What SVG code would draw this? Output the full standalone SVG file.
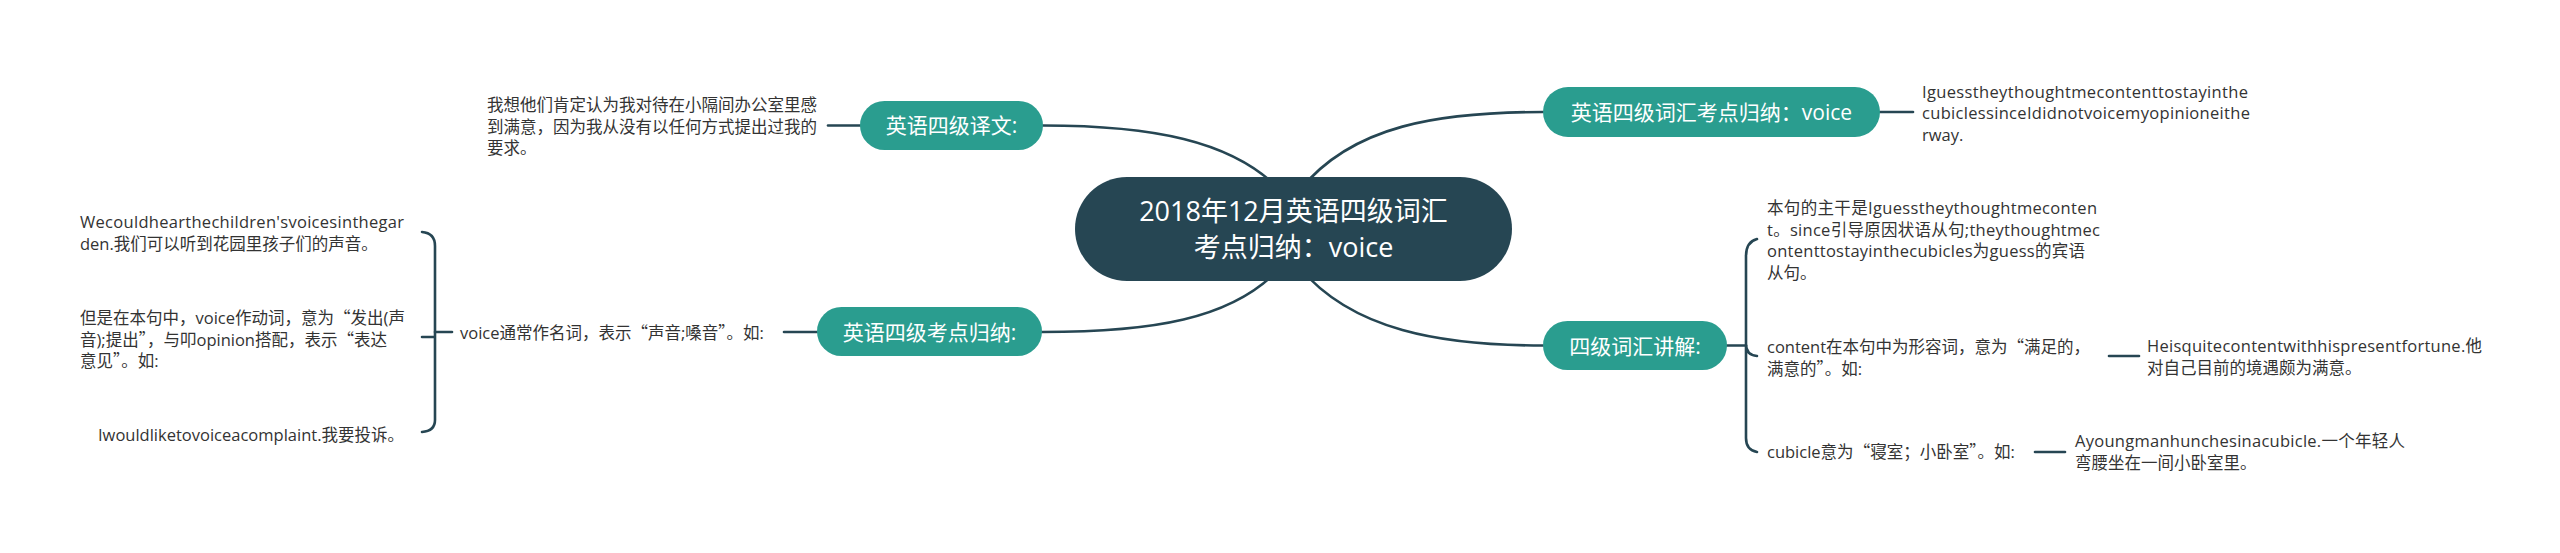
<svg xmlns="http://www.w3.org/2000/svg" width="2560" height="553" viewBox="0 0 2560 553">
<style>
.bg{fill:#ffffff}
.ln{fill:none;stroke:#264653;stroke-width:2.6;stroke-linecap:round}
.br{fill:#2a9d8f}
.ct{fill:#264653}
.t{font-family:"Open Sans","Noto Sans CJK SC",sans-serif;font-size:16.5px;fill:#333333}
.q{font-family:"Noto Sans CJK SC",sans-serif}
.n{font-family:"Open Sans","Noto Sans CJK SC",sans-serif;font-size:21px;fill:#ffffff;text-anchor:middle}
.c{font-family:"Open Sans","Noto Sans CJK SC",sans-serif;font-size:27px;fill:#ffffff;text-anchor:middle}
</style>
<rect class="bg" x="0" y="0" width="2560" height="553"/>
<g id="connectors">
<path class="ln" d="M1043,125.5 C1150,125.5 1232,140 1280,190"/>
<path class="ln" d="M1543,112 C1440,112 1352,125 1300,190"/>
<path class="ln" d="M1543,345.5 C1440,345.5 1352,330 1300,268"/>
<path class="ln" d="M1042,332 C1150,332 1232,320 1280,268"/>
<path class="ln" d="M828,125.5 H860"/>
<path class="ln" d="M1880,112 H1913"/>
<path class="ln" d="M784,332 H817"/>
<path class="ln" d="M1727,345.5 H1746"/>
<path class="ln" d="M2109,356 H2139"/>
<path class="ln" d="M2035,452 H2065"/>
<path class="ln" d="M435,332 H452"/>
<path class="ln" d="M1757,239 Q1746,242 1746,256 V438 Q1746,450 1757,452 M1746,344 Q1746,355 1757,356"/>
<path class="ln" d="M422,232 Q435,233 435,246 V420 Q435,431 422,432 M422,337 H435"/>
</g>
<g id="center">
<rect class="ct" x="1075" y="177" width="437" height="104" rx="52"/>
<text class="c" x="1293.5" y="221">2018年12月英语四级词汇</text>
<text class="c" x="1293.5" y="257">考点归纳：voice</text>
</g>
<g id="node-yiwen">
<rect class="br" x="860" y="101" width="183" height="49" rx="24.5"/>
<text class="n" x="951.5" y="133">英语四级译文:</text>
</g>
<g id="text-yiwen">
<text class="t" x="487" y="111">我想他们肯定认为我对待在小隔间办公室里感</text>
<text class="t" x="487" y="132.5">到满意，因为我从没有以任何方式提出过我的</text>
<text class="t" x="487" y="154">要求。</text>
</g>
<g id="node-guina">
<rect class="br" x="1543" y="87" width="337" height="50" rx="25"/>
<text class="n" x="1711.5" y="120">英语四级词汇考点归纳：voice</text>
</g>
<g id="text-guina">
<text class="t" x="1922" y="97.5" textLength="326" lengthAdjust="spacing">Iguesstheythoughtmecontenttostayinthe</text>
<text class="t" x="1922" y="119" textLength="328" lengthAdjust="spacing">cubiclessinceIdidnotvoicemyopinioneithe</text>
<text class="t" x="1922" y="140.5">rway.</text>
</g>
<g id="node-jiangjie">
<rect class="br" x="1543" y="321" width="184" height="49" rx="24.5"/>
<text class="n" x="1635" y="353.5">四级词汇讲解:</text>
</g>
<g id="text-zhugan">
<text class="t" x="1767" y="214" textLength="330" lengthAdjust="spacing">本句的主干是Iguesstheythoughtmeconten</text>
<text class="t" x="1767" y="235.7" textLength="333" lengthAdjust="spacing">t。since引导原因状语从句;theythoughtmec</text>
<text class="t" x="1767" y="257.4" textLength="318" lengthAdjust="spacing">ontenttostayinthecubicles为guess的宾语</text>
<text class="t" x="1767" y="279.1">从句。</text>
</g>
<g id="text-content">
<text class="t" x="1767" y="353">content在本句中为形容词，意为<tspan class="q">“</tspan>满足的，</text>
<text class="t" x="1767" y="374.5">满意的<tspan class="q">”</tspan>。如:</text>
</g>
<g id="text-content-ex">
<text class="t" x="2147" y="352" textLength="335" lengthAdjust="spacing">Heisquitecontentwithhispresentfortune.他</text>
<text class="t" x="2147" y="374">对自己目前的境遇颇为满意。</text>
</g>
<g id="text-cubicle">
<text class="t" x="1767" y="458">cubicle意为<tspan class="q">“</tspan>寝室；小卧室<tspan class="q">”</tspan>。如:</text>
</g>
<g id="text-cubicle-ex">
<text class="t" x="2075" y="447" textLength="330" lengthAdjust="spacing">Ayoungmanhunchesinacubicle.一个年轻人</text>
<text class="t" x="2075" y="469">弯腰坐在一间小卧室里。</text>
</g>
<g id="node-kaodian">
<rect class="br" x="817" y="307" width="225" height="49" rx="24.5"/>
<text class="n" x="929.5" y="339.5">英语四级考点归纳:</text>
</g>
<g id="text-voice">
<text class="t" x="460" y="339">voice通常作名词，表示<tspan class="q">“</tspan>声音;嗓音<tspan class="q">”</tspan>。如:</text>
</g>
<g id="text-garden">
<text class="t" x="80" y="228" textLength="324" lengthAdjust="spacing">Wecouldhearthechildren'svoicesinthegar</text>
<text class="t" x="80" y="249.5">den.我们可以听到花园里孩子们的声音。</text>
</g>
<g id="text-verb">
<text class="t" x="80" y="324">但是在本句中，voice作动词，意为<tspan class="q">“</tspan>发出(声</text>
<text class="t" x="80" y="345.5">音);提出<tspan class="q">”</tspan>，与叩opinion搭配，表示<tspan class="q">“</tspan>表达</text>
<text class="t" x="80" y="367">意见<tspan class="q">”</tspan>。如:</text>
</g>
<g id="text-complaint">
<text class="t" x="98" y="441">Iwouldliketovoiceacomplaint.我要投诉。</text>
</g>
</svg>
